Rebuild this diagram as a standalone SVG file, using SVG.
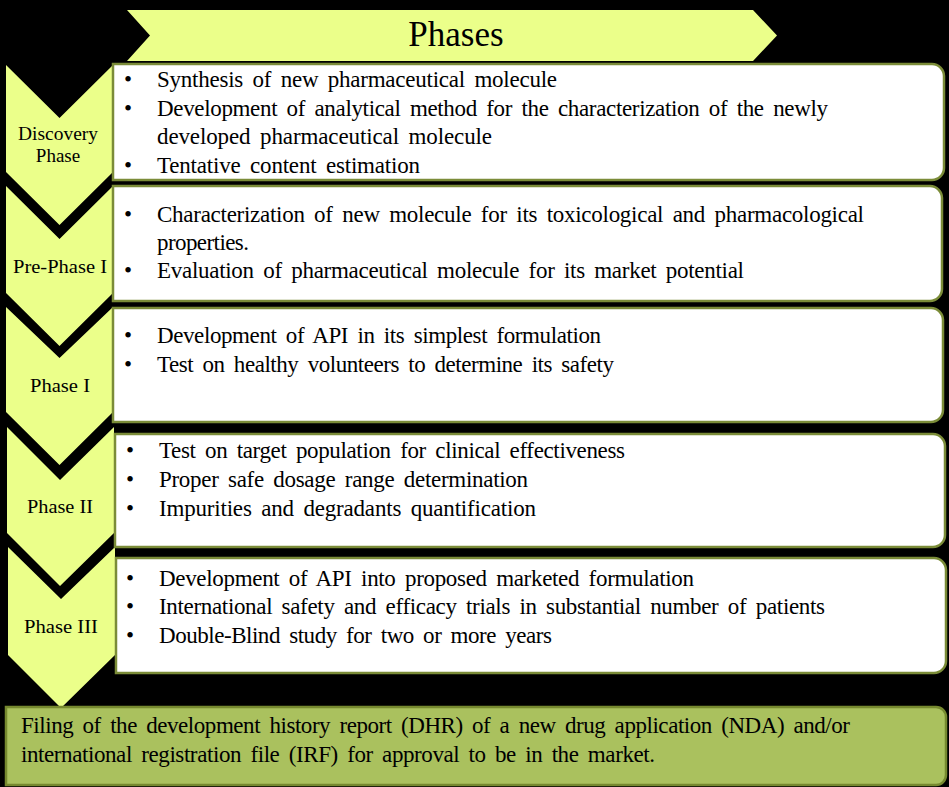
<svg xmlns="http://www.w3.org/2000/svg" width="949" height="787" viewBox="0 0 949 787">
<style>
.bg{fill:#000}
.chev{fill:#ebff8a;stroke:none}
.box{fill:#fff;stroke:#7b8c38;stroke-width:2.5}
.final{fill:#aac15e;stroke:#76892f;stroke-width:2.5}
.t{font-family:"Liberation Serif","Times New Roman",serif;font-size:23px;fill:#000;word-spacing:4px}
.lab{font-family:"Liberation Serif","Times New Roman",serif;font-size:19px;fill:#000;text-anchor:middle}
.title{font-family:"Liberation Serif","Times New Roman",serif;font-size:35px;fill:#000;text-anchor:middle}
</style>
<rect class="bg" x="0" y="0" width="949" height="787"/>

<g id="header">
<polygon class="chev" points="127,10 753,10 777,35.5 753,61 127,61 150,35.5"/>
<text class="title" x="456" y="46">Phases</text>
</g>

<g id="chev-discovery">
<polygon class="chev" points="6,65 59.5,118 113,65 113,172 59.5,225 6,172"/>
<text class="lab" x="58" y="140" textLength="80" lengthAdjust="spacingAndGlyphs">Discovery</text>
<text class="lab" x="58" y="162">Phase</text>
</g>
<g id="chev-prephase">
<polygon class="chev" points="6,186 59.5,239 113,186 113,293 59.5,346 6,293"/>
<text class="lab" x="60" y="273" textLength="94" lengthAdjust="spacingAndGlyphs">Pre-Phase  I</text>
</g>
<g id="chev-phase1">
<polygon class="chev" points="6,307 59.5,358 113,307 113,412 59.5,465 6,412"/>
<text class="lab" x="60" y="392" textLength="60" lengthAdjust="spacingAndGlyphs">Phase I</text>
</g>
<g id="chev-phase2">
<polygon class="chev" points="7,427 60,480 114,427 114,533 60,586 7,533"/>
<text class="lab" x="60" y="513" textLength="66" lengthAdjust="spacingAndGlyphs">Phase II</text>
</g>
<g id="chev-phase3">
<polygon class="chev" points="8,547 61,599 115,547 115,655 61,708 8,655"/>
<text class="lab" x="61" y="633" textLength="74" lengthAdjust="spacingAndGlyphs">Phase III</text>
</g>

<g id="box-discovery">
<path class="box" d="M113,64 H932 A12,12 0 0 1 944,76 V168 A12,12 0 0 1 932,180 H113 Z"/>
<text class="t" x="124" y="87">•</text>
<text class="t" x="157" y="87" textLength="400" lengthAdjust="spacing">Synthesis of new pharmaceutical molecule</text>
<text class="t" x="124" y="116">•</text>
<text class="t" x="157" y="116" textLength="671" lengthAdjust="spacing">Development of analytical method for the characterization of the newly</text>
<text class="t" x="157" y="144" textLength="335" lengthAdjust="spacing">developed pharmaceutical molecule</text>
<text class="t" x="124" y="173">•</text>
<text class="t" x="157" y="173" textLength="263" lengthAdjust="spacing">Tentative content estimation</text>
</g>

<g id="box-prephase">
<path class="box" d="M113,186 H930 A12,12 0 0 1 942,198 V289 A12,12 0 0 1 930,301 H113 Z"/>
<text class="t" x="124" y="222">•</text>
<text class="t" x="157" y="222" textLength="707" lengthAdjust="spacing">Characterization of new molecule for its toxicological and pharmacological</text>
<text class="t" x="157" y="250" textLength="92" lengthAdjust="spacing">properties.</text>
<text class="t" x="124" y="278">•</text>
<text class="t" x="157" y="278" textLength="587" lengthAdjust="spacing">Evaluation of pharmaceutical molecule for its market potential</text>
</g>

<g id="box-phase1">
<path class="box" d="M113,308 H931 A12,12 0 0 1 943,320 V410 A12,12 0 0 1 931,422 H113 Z"/>
<text class="t" x="124" y="343">•</text>
<text class="t" x="157" y="343" textLength="444" lengthAdjust="spacing">Development of API in its simplest formulation</text>
<text class="t" x="124" y="372">•</text>
<text class="t" x="157" y="372" textLength="457" lengthAdjust="spacing">Test on healthy volunteers to determine its safety</text>
</g>

<g id="box-phase2">
<path class="box" d="M115,434 H933 A12,12 0 0 1 945,446 V535 A12,12 0 0 1 933,547 H115 Z"/>
<text class="t" x="126" y="458">•</text>
<text class="t" x="159" y="458" textLength="466" lengthAdjust="spacing">Test on target population for clinical effectiveness</text>
<text class="t" x="126" y="487">•</text>
<text class="t" x="159" y="487" textLength="369" lengthAdjust="spacing">Proper safe dosage range determination</text>
<text class="t" x="126" y="516">•</text>
<text class="t" x="159" y="516" textLength="377" lengthAdjust="spacing">Impurities and degradants quantification</text>
</g>

<g id="box-phase3">
<path class="box" d="M116,558 H934 A12,12 0 0 1 946,570 V661 A12,12 0 0 1 934,673 H116 Z"/>
<text class="t" x="126" y="586">•</text>
<text class="t" x="159" y="586" textLength="535" lengthAdjust="spacing">Development of API into proposed marketed formulation</text>
<text class="t" x="126" y="614">•</text>
<text class="t" x="159" y="614" textLength="666" lengthAdjust="spacing">International safety and efficacy trials in substantial number of patients</text>
<text class="t" x="126" y="643">•</text>
<text class="t" x="159" y="643" textLength="393" lengthAdjust="spacing">Double-Blind study for two or more years</text>
</g>

<g id="box-filing">
<path class="final" d="M6,707 H936 A10,10 0 0 1 946,717 V775 A10,10 0 0 1 936,785 H6 Z"/>
<text class="t" x="21" y="733" textLength="829" lengthAdjust="spacing">Filing of the development history report (DHR) of a new drug application (NDA) and/or</text>
<text class="t" x="21" y="762" textLength="634" lengthAdjust="spacing">international registration file (IRF) for approval to be in the market.</text>
</g>
</svg>
